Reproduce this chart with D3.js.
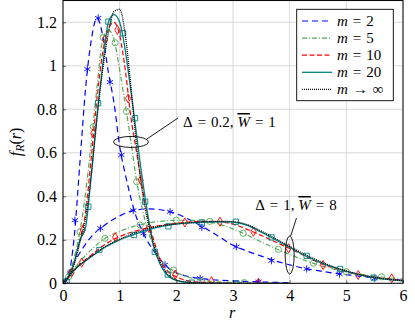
<!DOCTYPE html>
<html>
<head>
<meta charset="utf-8">
<script src="https://cdn.jsdelivr.net/npm/d3@7"></script>
<style>
  body { margin: 0; background: #fff; }
  svg { display: block; }
  svg text { font-family: "Liberation Serif", serif; fill: #000; }
  .tick text { font-size: 16px; }
</style>
</head>
<body>
<svg width="415" height="326"></svg>
<script>
const w = 415;
const h = 326;

// r samples for the two families
const rNarrow = [0, 0.1, 0.2, 0.3, 0.4, 0.5, 0.6, 0.7, 0.8, 0.9, 1.0, 1.1, 1.2, 1.3, 1.4, 1.5, 1.6, 1.7, 1.8, 1.9, 2.0, 2.2, 2.5, 3.0, 3.5, 4.0];
const rBroad = [0, 0.25, 0.5, 0.75, 1.0, 1.25, 1.5, 1.75, 2.0, 2.25, 2.5, 2.75, 3.0, 3.25, 3.5, 3.75, 4.0, 4.25, 4.5, 4.75, 5.0, 5.25, 5.5, 5.75, 6.0];

// Delta = 0.2, W = 1
const narrowM2 = [0, 0.04, 0.22, 0.56, 0.9, 1.12, 1.22, 1.14, 0.97, 0.83, 0.63, 0.5, 0.39, 0.3, 0.24, 0.19, 0.15, 0.115, 0.085, 0.062, 0.048, 0.032, 0.02, 0.011, 0.006, 0.003];
const narrowM5 = [0, 0.03, 0.12, 0.24, 0.42, 0.65, 0.9, 1.12, 1.165, 1.12, 0.98, 0.82, 0.65, 0.47, 0.34, 0.24, 0.17, 0.12, 0.085, 0.065, 0.05, 0.03, 0.012, 0.003, 0, 0];
const narrowM10 = [0, 0.025, 0.1, 0.2, 0.33, 0.58, 0.85, 1.06, 1.17, 1.2, 1.14, 0.98, 0.76, 0.6, 0.44, 0.3, 0.2, 0.12, 0.07, 0.045, 0.03, 0.012, 0.004, 0, 0, 0];
const narrowM20 = [0, 0.03, 0.1, 0.2, 0.26, 0.5, 0.77, 1.0, 1.2, 1.235, 1.2, 1.07, 0.88, 0.68, 0.48, 0.31, 0.17, 0.095, 0.05, 0.025, 0.013, 0.004, 0.001, 0, 0, 0];
const narrowInf = [0, 0.03, 0.09, 0.19, 0.3, 0.5, 0.76, 0.98, 1.15, 1.25, 1.26, 1.14, 0.9, 0.63, 0.42, 0.28, 0.18, 0.105, 0.058, 0.03, 0.016, 0.005, 0.001, 0, 0, 0];

// Delta = 1, W = 8
const broadM2 = [0, 0.12, 0.215, 0.27, 0.31, 0.335, 0.342, 0.337, 0.32, 0.29, 0.255, 0.215, 0.175, 0.148, 0.125, 0.103, 0.085, 0.069, 0.058, 0.048, 0.04, 0.032, 0.025, 0.019, 0.014];
const broadM5 = [0, 0.085, 0.155, 0.208, 0.238, 0.262, 0.277, 0.286, 0.29, 0.29, 0.285, 0.272, 0.25, 0.222, 0.19, 0.16, 0.133, 0.107, 0.085, 0.067, 0.053, 0.041, 0.032, 0.025, 0.019];
const broadM10 = [0, 0.075, 0.13, 0.18, 0.215, 0.238, 0.255, 0.267, 0.276, 0.282, 0.285, 0.283, 0.272, 0.248, 0.22, 0.19, 0.16, 0.128, 0.097, 0.073, 0.053, 0.038, 0.027, 0.019, 0.013];
const broadM20 = [0, 0.073, 0.122, 0.167, 0.2, 0.224, 0.246, 0.262, 0.272, 0.278, 0.281, 0.283, 0.281, 0.266, 0.235, 0.2, 0.165, 0.13, 0.1, 0.075, 0.055, 0.038, 0.026, 0.017, 0.011];
const broadInf = [0, 0.075, 0.125, 0.17, 0.203, 0.23, 0.252, 0.265, 0.273, 0.279, 0.283, 0.285, 0.283, 0.27, 0.24, 0.205, 0.17, 0.135, 0.105, 0.078, 0.057, 0.04, 0.027, 0.018, 0.012];

// marker positions [r, f]
const marksM2 = [[0.04, 0.01], [0.21, 0.29], [0.43, 0.985], [0.62, 1.22], [0.83, 0.925], [1.03, 0.59], [1.42, 0.23], [1.8, 0.085], [2.42, 0.023], [3.45, 0.007],
  [0.66, 0.253], [1.24, 0.335], [1.89, 0.329], [2.45, 0.257], [3.06, 0.168], [3.68, 0.104], [4.3, 0.066], [4.88, 0.043], [5.5, 0.023]];
const marksM5 = [[0.1, 0.03], [0.3, 0.237], [0.535, 0.72], [0.71, 1.13], [0.92, 1.106], [1.12, 0.79], [1.3, 0.467], [1.95, 0.061], [2.45, 0.01], [3.2, 0.003],
  [0.13, 0.05], [0.74, 0.207], [1.36, 0.268], [2.0, 0.29], [2.59, 0.285], [3.18, 0.23], [3.8, 0.156], [4.42, 0.092], [5.0, 0.053], [5.62, 0.03]];
const marksM10 = [[0.15, 0.049], [0.35, 0.245], [0.535, 0.69], [0.74, 1.12], [0.96, 1.165], [1.15, 0.85], [1.37, 0.475], [1.98, 0.04], [2.62, 0.01], [3.45, 0.002],
  [0.33, 0.095], [0.92, 0.212], [1.52, 0.255], [2.15, 0.28], [2.77, 0.283], [3.36, 0.237], [3.98, 0.161], [4.59, 0.084], [5.21, 0.038], [5.8, 0.023]];
const marksM20 = [[0.065, 0.007], [0.447, 0.352], [0.62, 0.828], [0.8, 1.203], [1.06, 1.15], [1.27, 0.759], [1.45, 0.375], [1.62, 0.145], [1.85, 0.04], [2.27, 0.003], [3.06, 0],
  [0.64, 0.153], [1.25, 0.222], [1.86, 0.262], [2.45, 0.28], [3.05, 0.283], [3.68, 0.211], [4.3, 0.126], [4.89, 0.066], [5.48, 0.026]];

const legendValues = ["2", "5", "10", "20", "\u221e"];
const xTicks = [0, 1, 2, 3, 4, 5, 6];
const yTicks = [0, 0.2, 0.4, 0.6, 0.8, 1, 1.2];

const series = [
  { narrow: narrowM2, broad: broadM2, marks: marksM2, color: "#0000ff", dash: "6,4", width: 1.2, symbol: d3.symbolAsterisk, size: 36 },
  { narrow: narrowM5, broad: broadM5, marks: marksM5, color: "#55a855", dash: "5,2,1,2", width: 1.2, symbol: d3.symbolCircle, size: 30 },
  { narrow: narrowM10, broad: broadM10, marks: marksM10, color: "#ff0000", dash: "5,2.5", width: 1.2, symbol: d3.symbolDiamond, size: 24 },
  { narrow: narrowM20, broad: broadM20, marks: marksM20, color: "#008080", dash: null, width: 1.3, symbol: d3.symbolSquare, size: 28 },
  { narrow: narrowInf, broad: broadInf, marks: [], color: "#000000", dash: "1,1", width: 1.3, symbol: null, size: 0 }
];

const x = d3.scaleLinear().domain([0, 6]).range([63, 403]);
const y = d3.scaleLinear().domain([0, 1.3]).range([283.3, 0.55]);

const svg = d3.select("svg").attr("width", w).attr("height", h);

svg.append("clipPath").attr("id", "plot")
  .append("rect")
  .attr("x", x(0)).attr("y", y(1.3))
  .attr("width", x(6) - x(0)).attr("height", y(0) - y(1.3));

/** grid */
svg.append("g")
  .selectAll("line")
  .data(xTicks)
  .enter()
  .append("line")
  .attr("x1", (d) => x(d)).attr("x2", (d) => x(d))
  .attr("y1", y(0)).attr("y2", y(1.3))
  .attr("stroke", "#cfcfcf").attr("stroke-width", 0.8);

svg.append("g")
  .selectAll("line")
  .data(yTicks)
  .enter()
  .append("line")
  .attr("x1", x(0)).attr("x2", x(6))
  .attr("y1", (d) => y(d)).attr("y2", (d) => y(d))
  .attr("stroke", "#cfcfcf").attr("stroke-width", 0.8);

/** curves */
const plot = svg.append("g").attr("clip-path", "url(#plot)");

const makeLine = (rs) => d3.line()
  .x((d, i) => x(rs[i]))
  .y((d) => y(d))
  .curve(d3.curveMonotoneX);

series.forEach((s) => {
  [[s.narrow, rNarrow], [s.broad, rBroad]].forEach(([vals, rs]) => {
    plot.append("path")
      .datum(vals)
      .attr("d", makeLine(rs))
      .attr("fill", "none")
      .attr("stroke", s.color)
      .attr("stroke-width", s.width)
      .attr("stroke-dasharray", s.dash);
  });
  if (s.symbol) {
    plot.selectAll(null)
      .data(s.marks)
      .enter()
      .append("path")
      .attr("d", d3.symbol().type(s.symbol).size(s.size))
      .attr("transform", (d) => `translate(${x(d[0])},${y(d[1])})`)
      .attr("fill", "none")
      .attr("stroke", s.color)
      .attr("stroke-width", 0.9);
  }
});

/** axes */
const xAxis = svg.append("g")
  .attr("transform", `translate(0,${y(0)})`)
  .call(d3.axisBottom(x).tickValues(xTicks).tickFormat(d3.format("d")).tickSizeInner(-3).tickSizeOuter(0).tickPadding(6));
const yAxis = svg.append("g")
  .attr("transform", `translate(${x(0)},0)`)
  .call(d3.axisLeft(y).tickValues(yTicks).tickFormat((d) => String(d)).tickSizeInner(-3).tickSizeOuter(0).tickPadding(6));
[xAxis, yAxis].forEach((g) => {
  g.select(".domain").remove();
  g.selectAll(".tick line").attr("stroke", "#000").attr("stroke-width", 0.6);
});

svg.append("rect")
  .attr("x", x(0)).attr("y", y(1.3))
  .attr("width", x(6) - x(0)).attr("height", y(0) - y(1.3))
  .attr("fill", "none").attr("stroke", "#000").attr("stroke-width", 1);

svg.append("text")
  .attr("x", x(3) - 1).attr("y", 318)
  .attr("text-anchor", "middle")
  .attr("font-size", 16).attr("font-style", "italic")
  .text("r");

const yLabel = svg.append("text")
  .attr("transform", `translate(21,${y(0.65)}) rotate(-90)`)
  .attr("text-anchor", "middle")
  .attr("font-size", 16);
yLabel.append("tspan").attr("font-style", "italic").text("f");
yLabel.append("tspan").attr("font-style", "italic").attr("font-size", 12).attr("dy", 3).text("R");
yLabel.append("tspan").attr("dy", -3).text("(");
yLabel.append("tspan").attr("font-style", "italic").text("r");
yLabel.append("tspan").text(")");

/** annotations */
svg.append("ellipse")
  .attr("cx", x(1.2)).attr("cy", y(0.65))
  .attr("rx", 17.5).attr("ry", 5.5)
  .attr("fill", "none").attr("stroke", "#000").attr("stroke-width", 0.9);
svg.append("line")
  .attr("x1", x(1.2) + 16).attr("y1", y(0.65) - 3)
  .attr("x2", 178).attr("y2", 118)
  .attr("stroke", "#000").attr("stroke-width", 0.9);

svg.append("ellipse")
  .attr("cx", x(4.0)).attr("cy", y(0.13))
  .attr("rx", 4.5).attr("ry", 19)
  .attr("fill", "none").attr("stroke", "#000").attr("stroke-width", 0.9);
svg.append("line")
  .attr("x1", x(4.0) + 1).attr("y1", y(0.13) - 19)
  .attr("x2", 296.5).attr("y2", 218)
  .attr("stroke", "#000").attr("stroke-width", 0.9);

const sp = "\u2004";
const annot = (tx, ty, anchor, delta, wbar) => {
  const t = svg.append("text").attr("x", tx).attr("y", ty).attr("font-size", 15).attr("text-anchor", anchor);
  t.append("tspan").text(`\u0394${sp}=${sp}${delta}, `);
  t.append("tspan").attr("font-style", "italic").style("text-decoration", "overline").text("W");
  t.append("tspan").text(`${sp}=${sp}${wbar}`);
};
annot(183, 127, "start", "0.2", "1");
annot(296, 210, "middle", "1", "8");

/** legend */
const legend = svg.append("g");
legend.append("rect")
  .attr("x", 296.7).attr("y", 9.3)
  .attr("width", 96.6).attr("height", 91.4)
  .attr("fill", "#fff").attr("stroke", "#000").attr("stroke-width", 0.9);

legend.selectAll("line")
  .data(series)
  .enter()
  .append("line")
  .attr("x1", 302).attr("x2", 332)
  .attr("y1", (d, i) => 21 + i * 17.1).attr("y2", (d, i) => 21 + i * 17.1)
  .attr("stroke", (d) => d.color)
  .attr("stroke-width", (d) => d.width)
  .attr("stroke-dasharray", (d) => d.dash);

legend.selectAll("text")
  .data(legendValues)
  .enter()
  .append("text")
  .attr("x", 337)
  .attr("y", (d, i) => 26 + i * 17.1)
  .attr("font-size", 15)
  .each(function (d) {
    const rel = d === "\u221e" ? "\u2192" : "=";
    d3.select(this).append("tspan").attr("font-style", "italic").text("m");
    d3.select(this).append("tspan").text(`${sp}${rel}${sp}${d}`);
  });
</script>
</body>
</html>
